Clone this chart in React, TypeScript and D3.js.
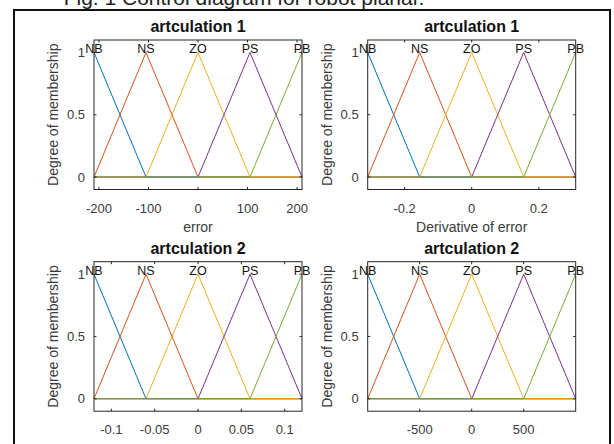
import React from "react";
import * as d3 from "d3";

// Fuzzy set names shared by every input variable
const setNames = ["NB", "NS", "ZO", "PS", "PB"];
const setColors = ["#0072BD", "#D95319", "#EDB120", "#7E2F8E", "#77AC30"];

// Panel titles and axis labels
const panelTitles = ["artculation 1", "artculation 1", "artculation 2", "artculation 2"];
const xAxisLabels = ["error", "Derivative of error", "", ""];
const yAxisLabel = "Degree of membership";
const figureCaption = "Fig. 1 Control diagram for robot planar.";

// Triangle peaks (membership = 1) for each variable's five sets
const peaksError1 = [-210, -105, 0, 105, 210];
const peaksDeriv1 = [-0.31, -0.155, 0, 0.155, 0.31];
const peaksError2 = [-0.12, -0.06, 0, 0.06, 0.12];
const peaksDeriv2 = [-1000, -500, 0, 500, 1000];

// Tick values on each x axis
const ticksError1 = [-200, -100, 0, 100, 200];
const ticksDeriv1 = [-0.2, 0, 0.2];
const ticksError2 = [-0.1, -0.05, 0, 0.05, 0.1];
const ticksDeriv2 = [-500, 0, 500];
const ticksY = [0, 0.5, 1];

const panels = [
  { peaks: peaksError1, ticks: ticksError1, col: 0, row: 0 },
  { peaks: peaksDeriv1, ticks: ticksDeriv1, col: 1, row: 0 },
  { peaks: peaksError2, ticks: ticksError2, col: 0, row: 1 },
  { peaks: peaksDeriv2, ticks: ticksDeriv2, col: 1, row: 1 },
];

const FONT = "'Liberation Sans', Arial, Helvetica, sans-serif";
const boxLeft = [94, 367.7];
const boxTop = [40, 261.7];
const boxW = 208;
const boxH = 149.5;

function trimf(x: number, a: number, b: number, c: number) {
  const left = b === a ? (x >= b ? 1 : 0) : (x - a) / (b - a);
  const right = c === b ? (x <= b ? 1 : 0) : (c - x) / (c - b);
  return Math.max(Math.min(left, right), 0);
}

function fmt(v: number) {
  return String(v).replace(/^0\./, "0.").replace(/^-0\./, "-0.");
}

function Panel({ idx }: { idx: number }) {
  const p = panels[idx];
  const x0 = boxLeft[p.col];
  const y0 = boxTop[p.row];
  const dom: [number, number] = [p.peaks[0], p.peaks[p.peaks.length - 1]];
  const x = d3.scaleLinear().domain(dom).range([x0, x0 + boxW]);
  const y = d3.scaleLinear().domain([-0.1, 1.1]).range([y0 + boxH, y0]);
  const step = p.peaks[1] - p.peaks[0];
  const line = d3
    .line<[number, number]>()
    .x((d) => x(d[0]))
    .y((d) => y(d[1]));

  const curves = p.peaks.map((b, i) => {
    const a = i > 0 ? p.peaks[i - 1] : b - step;
    const c = i < p.peaks.length - 1 ? p.peaks[i + 1] : b + step;
    const xs = Array.from(new Set([dom[0], a, b, c, dom[1]]))
      .filter((v) => v >= dom[0] && v <= dom[1])
      .sort((m, n) => m - n);
    return xs.map((v) => [v, trimf(v, a, b, c)] as [number, number]);
  });

  const tickLen = 2.5;
  const axisColor = "#262626";
  const labelColor = "#3a3a3a";
  const cx = x0 + boxW / 2;

  return (
    <g>
      {curves.map((pts, i) => (
        <path
          key={setNames[i]}
          d={line(pts) || ""}
          fill="none"
          stroke={setColors[i]}
          strokeWidth={1}
        />
      ))}
      <rect x={x0} y={y0} width={boxW} height={boxH} fill="none" stroke={axisColor} strokeWidth={1} />
      {p.ticks.map((t) => (
        <g key={"xt" + t}>
          <line x1={x(t)} x2={x(t)} y1={y0 + boxH} y2={y0 + boxH - tickLen} stroke={axisColor} />
          <line x1={x(t)} x2={x(t)} y1={y0} y2={y0 + tickLen} stroke={axisColor} />
          <text
            x={x(t)}
            y={y0 + boxH + 23}
            textAnchor="middle"
            fontFamily={FONT}
            fontSize={13}
            fill={labelColor}
          >
            {fmt(t)}
          </text>
        </g>
      ))}
      {ticksY.map((t) => (
        <g key={"yt" + t}>
          <line x1={x0} x2={x0 + tickLen} y1={y(t)} y2={y(t)} stroke={axisColor} />
          <line x1={x0 + boxW} x2={x0 + boxW - tickLen} y1={y(t)} y2={y(t)} stroke={axisColor} />
          <text
            x={x0 - 9}
            y={y(t)}
            dy="0.36em"
            textAnchor="end"
            fontFamily={FONT}
            fontSize={13}
            fill={labelColor}
          >
            {fmt(t)}
          </text>
        </g>
      ))}
      {p.peaks.map((b, i) => (
        <text
          key={"lbl" + i}
          x={x(b)}
          y={y(1) + 0.8}
          textAnchor="middle"
          fontFamily={FONT}
          fontSize={12.5}
          fill="#111"
        >
          {setNames[i]}
        </text>
      ))}
      <text
        x={cx}
        y={y0 - 8}
        textAnchor="middle"
        fontFamily={FONT}
        fontSize={16}
        fontWeight="bold"
        fill="#111"
      >
        {panelTitles[idx]}
      </text>
      {xAxisLabels[idx] && (
        <text
          x={cx}
          y={y0 + boxH + 42}
          textAnchor="middle"
          fontFamily={FONT}
          fontSize={14}
          fill={labelColor}
        >
          {xAxisLabels[idx]}
        </text>
      )}
      <text
        transform={`translate(${x0 - 36},${y0 + boxH / 2}) rotate(-90)`}
        textAnchor="middle"
        fontFamily={FONT}
        fontSize={14}
        fill={labelColor}
      >
        {yAxisLabel}
      </text>
    </g>
  );
}

export default function App() {
  return (
    <svg
      width={614}
      height={444}
      style={{ position: "absolute", left: 0, top: 0, background: "#fff" }}
    >
      <rect x={0} y={0} width={614} height={444} fill="#fff" />
      <text x={244} y={4.5} textAnchor="middle" fontFamily={FONT} fontSize={21} fill="#222">
        {figureCaption}
      </text>
      <rect x={14} y={10} width={596} height={460} fill="none" stroke="#111" strokeWidth={2} />
      {panels.map((_, i) => (
        <Panel key={i} idx={i} />
      ))}
    </svg>
  );
}
